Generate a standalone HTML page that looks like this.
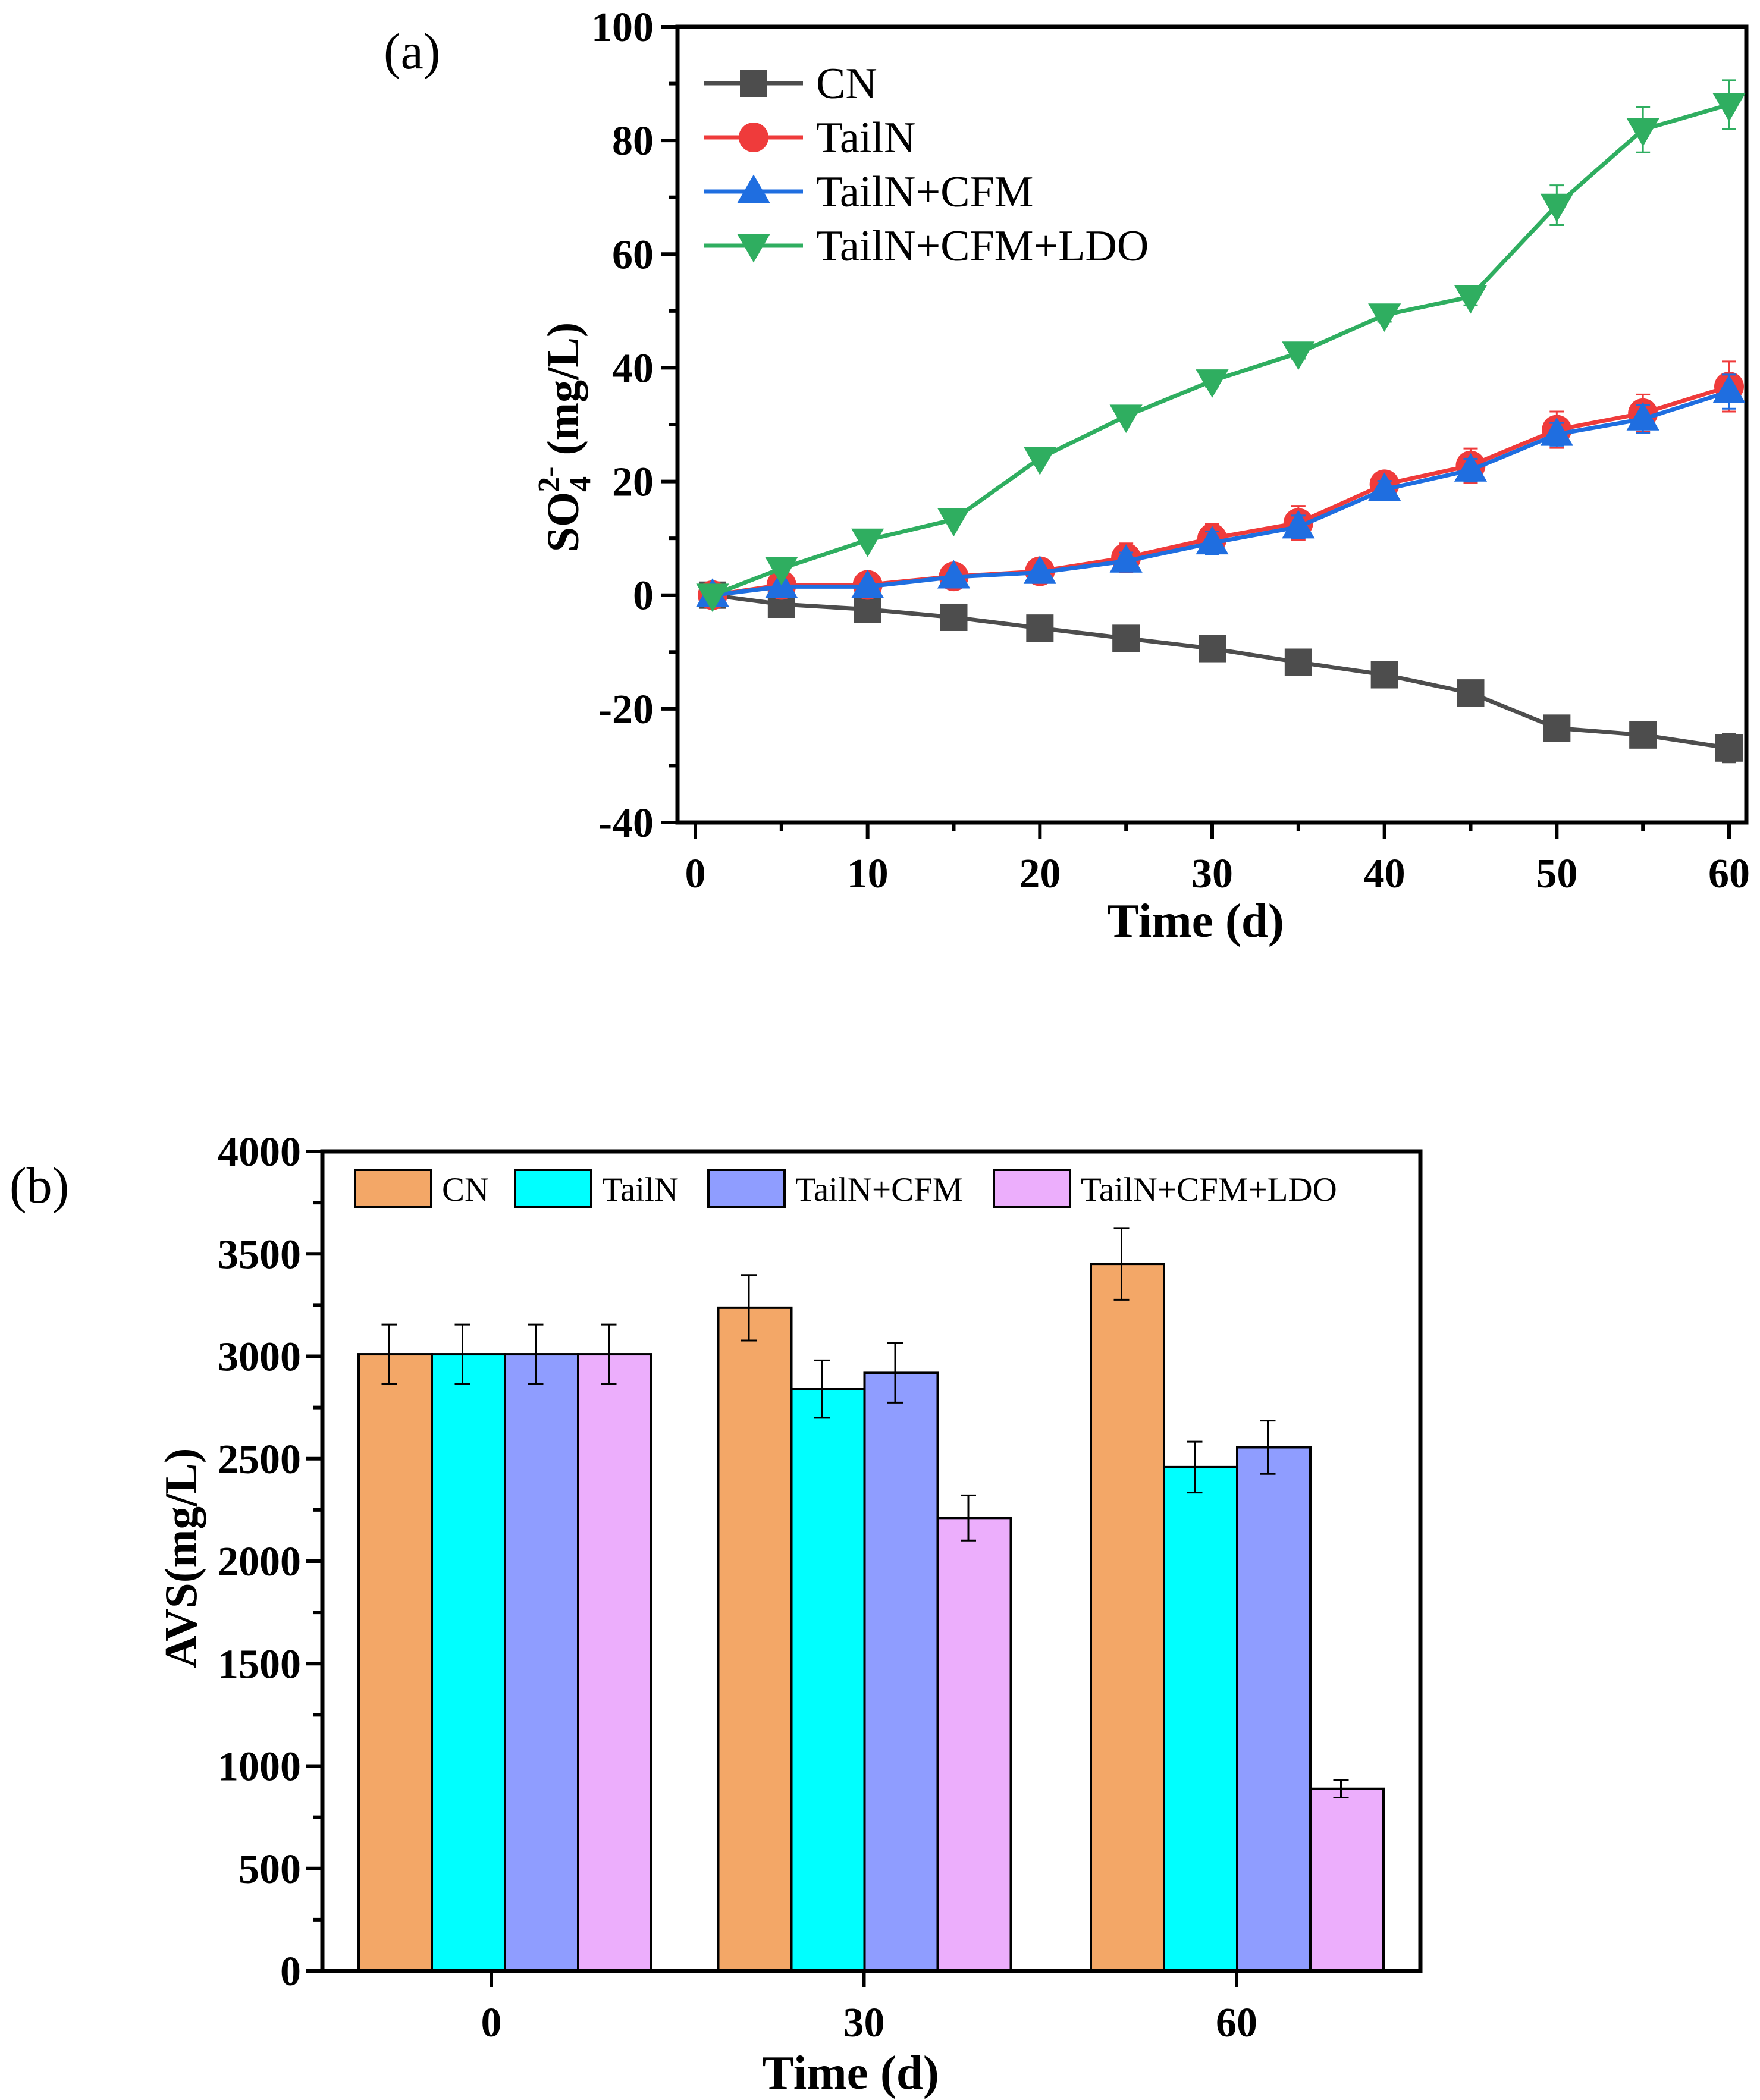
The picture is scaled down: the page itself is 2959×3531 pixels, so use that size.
<!DOCTYPE html>
<html><head><meta charset="utf-8">
<style>
html,body{margin:0;padding:0;background:#fff}
svg{display:block}
text{font-family:"Liberation Serif",serif}
</style></head>
<body>
<svg id="fig" width="2959" height="3531" viewBox="0 0 2959 3531" xmlns="http://www.w3.org/2000/svg">
<rect width="2959" height="3531" fill="#fff"/>
<g id="pa"></g>
<g id="pb"></g>
</svg>
<script>
// ---------- Panel (a) data ----------
const daysA = [1,5,10,15,20,25,30,35,40,45,50,55,60];
const seriesNames = ["CN","TailN","TailN+CFM","TailN+CFM+LDO"];
const cnVals   = [0,-1.6,-2.5,-3.9,-5.8,-7.6,-9.4,-11.8,-14.0,-17.2,-23.4,-24.6,-26.9];
const cnErr    = [0.3,0.4,0.4,0.4,0.5,0.5,0.5,0.6,0.6,0.7,1.0,2.0,2.5];
const tailVals = [0,1.8,1.8,3.3,4.2,6.6,10.0,12.7,19.5,22.8,29.1,32.0,36.7];
const tailErr  = [0.3,0.4,0.5,1.0,0.8,2.5,2.5,3.0,1.5,3.0,3.2,3.3,4.4];
const cfmVals  = [0,1.5,1.5,3.2,4.0,6.0,9.2,12.0,18.6,22.0,28.3,31.0,35.8];
const cfmErr   = [0.3,0.4,0.5,0.8,0.8,1.5,2.0,2.0,1.5,2.0,2.0,2.5,3.0];
const ldoVals  = [0,4.7,9.7,13.3,24.1,31.5,37.7,42.6,49.3,52.5,68.6,81.9,86.3];
const ldoErr   = [0.3,0.5,0.6,0.8,0.8,0.8,1.0,1.0,1.2,1.5,3.5,4.0,4.3];
const yTicksA = [-40,-20,0,20,40,60,80,100];
const xTicksA = [0,10,20,30,40,50,60];
// ---------- Panel (b) data ----------
const catsB = [0,30,60];
const barCN   = [3010,3237,3451];
const barCNe  = [145,160,175];
const barTail = [3010,2840,2459];
const barTaile= [145,140,124];
const barCFM  = [3010,2919,2556];
const barCFMe = [145,145,130];
const barLDO  = [3010,2211,889];
const barLDOe = [145,110,43];
const yTicksB = [0,500,1000,1500,2000,2500,3000,3500,4000];

const NS="http://www.w3.org/2000/svg";
function mk(parent,tag,attrs,txt){const e=document.createElementNS(NS,tag);for(const k in attrs)e.setAttribute(k,attrs[k]);if(txt!==undefined)e.textContent=txt;parent.appendChild(e);return e;}

// ===== Panel A =====
const pa=document.getElementById('pa');
const AL=1139,AR=2936,AT=45,AB=1383;
const xA=v=>1169+(v-0)*(2907-1169)/60;
const yA=v=>AB-(v+40)*(AB-AT)/140;
const colsA=["#4d4d4d","#ef3b3b","#1f6ee0","#2fae60"];
const valsA=[cnVals,tailVals,cfmVals,ldoVals];
const errsA=[cnErr,tailErr,cfmErr,ldoErr];
let fr=mk(pa,'rect',{x:AL,y:AT,width:AR-AL,height:AB-AT,fill:'none',stroke:'#000','stroke-width':7});


yTicksA.forEach(v=>{
 let t=mk(pa,'line',{x1:AL-27,x2:AL,y1:yA(v),y2:yA(v),stroke:'#000','stroke-width':6});
 
 
 let l=mk(pa,'text',{x:AL-40,y:yA(v)+24,'text-anchor':'end','font-size':70,'font-weight':'bold'},String(v));
 
 
});
for(let v=-30;v<100;v+=20){
 let t=mk(pa,'line',{x1:AL-15,x2:AL,y1:yA(v),y2:yA(v),stroke:'#000','stroke-width':6});
 
 
}
xTicksA.forEach(v=>{
 let t=mk(pa,'line',{x1:xA(v),x2:xA(v),y1:AB,y2:AB+27,stroke:'#000','stroke-width':6});
 
 
 let l=mk(pa,'text',{x:xA(v),y:1492,'text-anchor':'middle','font-size':70,'font-weight':'bold'},String(v));
 
 
});
for(let v=5;v<60;v+=10){
 let t=mk(pa,'line',{x1:xA(v),x2:xA(v),y1:AB,y2:AB+15,stroke:'#000','stroke-width':6});
 
 
}
let xt=mk(pa,'text',{x:2010,y:1575,'text-anchor':'middle','font-size':81,'font-weight':'bold'},'Time (d)');


let yt=mk(pa,'text',{transform:'translate(972,735) rotate(-90)','text-anchor':'middle','font-size':76,'font-weight':'bold'});


mk(yt,'tspan',{},'SO');
mk(yt,'tspan',{'font-size':52,dy:20},'4');
mk(yt,'tspan',{'font-size':52,dx:-27,dy:-52},'2-');
mk(yt,'tspan',{dy:32},' (mg/L)');
let la=mk(pa,'text',{x:645,y:115,'font-size':86},'(a)');



function marker(g,type,cx,cy,col,s){
 if(type===0)return mk(g,'rect',{x:cx-s/2,y:cy-s/2,width:s,height:s,fill:col});
 if(type===1)return mk(g,'circle',{cx:cx,cy:cy,r:s/2+2,fill:col});
 if(type===2)return mk(g,'polygon',{points:`${cx},${cy-s*0.62} ${cx-s*0.6},${cy+s*0.42} ${cx+s*0.6},${cy+s*0.42}`,fill:col});
 return mk(g,'polygon',{points:`${cx},${cy+s*0.62} ${cx-s*0.6},${cy-s*0.42} ${cx+s*0.6},${cy-s*0.42}`,fill:col});
}
valsA.forEach((vals,si)=>{
 const g=mk(pa,'g',{});
 
 
 const col=colsA[si];
 vals.forEach((v,i)=>{
  const e=errsA[si][i],x=xA(daysA[i]);
  const eb=mk(g,'path',{d:`M${x},${yA(v+e)}V${yA(v-e)}M${x-12},${yA(v+e)}H${x+12}M${x-12},${yA(v-e)}H${x+12}`,stroke:col,'stroke-width':3,fill:'none'});
  
  
 });
 const ln=mk(g,'polyline',{points:vals.map((v,i)=>xA(daysA[i])+','+yA(v)).join(' '),fill:'none',stroke:col,'stroke-width':7});
 
 
 vals.forEach((v,i)=>{
  const m=marker(g,si,xA(daysA[i]),yA(v),col,46);
  
  
 });
});
const legA=mk(pa,'g',{});


seriesNames.forEach((n,i)=>{
 const y=140+i*91;
 const g=mk(legA,'g',{});
 
 
 mk(g,'line',{x1:1183,x2:1350,y1:y,y2:y,stroke:colsA[i],'stroke-width':7});
 marker(g,i,1267,y,colsA[i],46);
 mk(g,'text',{x:1372,y:y+25,'font-size':74},n);
});

// ===== Panel B =====
const pb=document.getElementById('pb');
const BL=542,BR=2388,BT=1936,BB=3314;
const yB=v=>BB-v*(BB-BT)/4000;
const xB=c=>826+(c-0)*(2079-826)/60;
const bw=123;
const colsB=["#f3a767","#00ffff","#8f9dff","#ecaefc"];
const barVals=[barCN,barTail,barCFM,barLDO];
const barErrs=[barCNe,barTaile,barCFMe,barLDOe];
catsB.forEach((c,ci)=>{
 const g=mk(pb,'g',{});
 
 
 const x0=xB(c)+(ci===0?23:1)-2*bw;
 barVals.forEach((vals,si)=>{
  const v=vals[ci],x=x0+si*bw;
  const r=mk(g,'rect',{x:x,y:yB(v),width:bw,height:BB-yB(v),fill:colsB[si],stroke:'#000','stroke-width':4});
  
  
  const e=barErrs[si][ci],cx=x+bw/2-10;
  const eb=mk(g,'path',{d:`M${cx},${yB(v+e)}V${yB(v-e)}M${cx-13},${yB(v+e)}H${cx+13}M${cx-13},${yB(v-e)}H${cx+13}`,stroke:'#000','stroke-width':3,fill:'none'});
  
  
 });
});
let frb=mk(pb,'rect',{x:BL,y:BT,width:BR-BL,height:BB-BT,fill:'none',stroke:'#000','stroke-width':7});


yTicksB.forEach(v=>{
 let t=mk(pb,'line',{x1:BL-27,x2:BL,y1:yB(v),y2:yB(v),stroke:'#000','stroke-width':6});
 
 
 let l=mk(pb,'text',{x:BL-36,y:yB(v)+24,'text-anchor':'end','font-size':70,'font-weight':'bold'},String(v));
 
 
});
for(let v=250;v<4000;v+=500){
 let t=mk(pb,'line',{x1:BL-15,x2:BL,y1:yB(v),y2:yB(v),stroke:'#000','stroke-width':6});
 
 
}
catsB.forEach(c=>{
 let t=mk(pb,'line',{x1:xB(c),x2:xB(c),y1:BB,y2:BB+27,stroke:'#000','stroke-width':6});
 
 
 let l=mk(pb,'text',{x:xB(c),y:3424,'text-anchor':'middle','font-size':70,'font-weight':'bold'},String(c));
 
 
});
let xtb=mk(pb,'text',{x:1430,y:3512,'text-anchor':'middle','font-size':81,'font-weight':'bold'},'Time (d)');


let ytb=mk(pb,'text',{transform:'translate(330,2620) rotate(-90)','text-anchor':'middle','font-size':77,'font-weight':'bold'},'AVS(mg/L)');


let lb=mk(pb,'text',{x:16,y:2022,'font-size':86},'(b)');


const legBx=[597,866,1191,1671];
const legB=mk(pb,'g',{});


seriesNames.forEach((n,i)=>{
 const g=mk(legB,'g',{});
 
 
 mk(g,'rect',{x:legBx[i],y:1967,width:128,height:63,fill:colsB[i],stroke:'#000','stroke-width':4});
 mk(g,'text',{x:legBx[i]+146,y:2019,'font-size':57},n);
});
</script>
</body></html>
